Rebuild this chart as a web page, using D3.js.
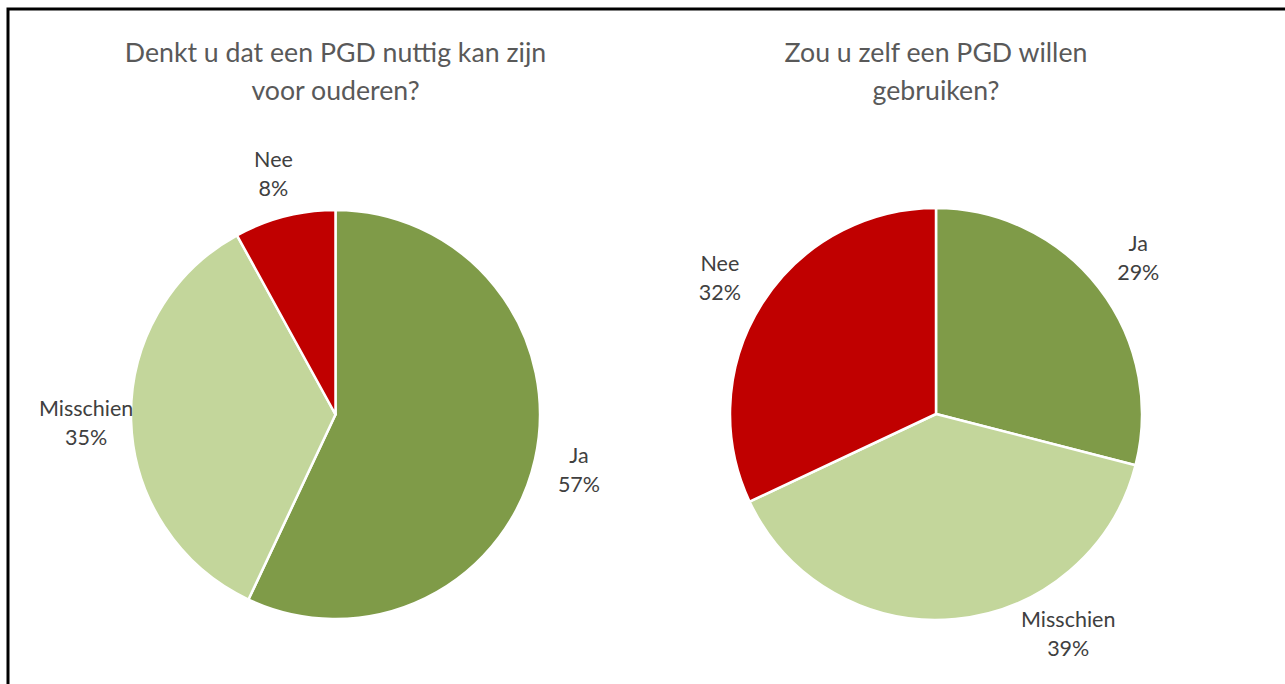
<!DOCTYPE html>
<html>
<head>
<meta charset="utf-8">
<script src="https://cdn.jsdelivr.net/npm/d3@7"></script>
<style>
  html, body { margin: 0; padding: 0; background: #fff; }
  svg { display: block; }
  text { font-family: "Lato", "Open Sans", sans-serif; }
</style>
</head>
<body>
<svg id="chart" width="1285" height="684"></svg>
<script>
// ---- data ----
const categories = ["Ja", "Misschien", "Nee"];
const valuesChart1 = [57, 35, 8];
const valuesChart2 = [29, 39, 32];
const title1 = ["Denkt u dat een PGD nuttig kan zijn", "voor ouderen?"];
const title2 = ["Zou u zelf een PGD willen", "gebruiken?"];

// ---- layout / style ----
const colors = { "Ja": "#7F9B48", "Misschien": "#C3D69B", "Nee": "#C00000" };
const W = 1285, H = 684;
const svg = d3.select("#chart");

// frame (top and left edges visible)
svg.append("path")
  .attr("d", `M8,${H + 5} L8,9 L${W + 5},9`)
  .attr("fill", "none")
  .attr("stroke", "#000")
  .attr("stroke-width", 3);

const charts = [
  { title: title1, values: valuesChart1, cx: 335.5, cy: 414.5, r: 204.5, labelOffset: 45, angleOverride: {} },
  { title: title2, values: valuesChart2, cx: 936, cy: 414, r: 206, labelOffset: 50, angleOverride: { "Misschien": 148.9 } }
];

const pie = d3.pie().sort(null).value(d => d.value);

charts.forEach(c => {
  const g = svg.append("g").attr("transform", `translate(${c.cx},${c.cy})`);
  const data = categories.map((k, i) => ({ key: k, value: c.values[i] }));
  const arcs = pie(data);
  const arc = d3.arc().innerRadius(0).outerRadius(c.r);

  g.selectAll("path.slice")
    .data(arcs)
    .join("path")
    .attr("class", "slice")
    .attr("d", arc)
    .attr("fill", d => colors[d.data.key])
    .attr("stroke", "#fff")
    .attr("stroke-width", 2.5)
    .attr("stroke-linejoin", "round");

  // labels
  const lr = c.r + c.labelOffset;
  arcs.forEach(d => {
    let a = (d.startAngle + d.endAngle) / 2;
    if (c.angleOverride[d.data.key] !== undefined) a = c.angleOverride[d.data.key] * Math.PI / 180;
    const x = Math.sin(a) * lr;
    const y = -Math.cos(a) * lr;
    const t = g.append("text")
      .attr("text-anchor", "middle")
      .attr("fill", "#404040")
      .attr("font-size", 21.5);
    t.append("tspan").attr("x", x).attr("y", y - 6).text(d.data.key);
    t.append("tspan").attr("x", x).attr("y", y + 23).text(d3.format(".0%")(d.data.value / 100));
  });

  // title
  const tt = svg.append("text")
    .attr("text-anchor", "middle")
    .attr("fill", "#595959")
    .attr("font-size", 26.7);
  c.title.forEach((line, i) => {
    tt.append("tspan").attr("x", c.cx).attr("y", 62 + i * 38).text(line);
  });
});
</script>
</body>
</html>
